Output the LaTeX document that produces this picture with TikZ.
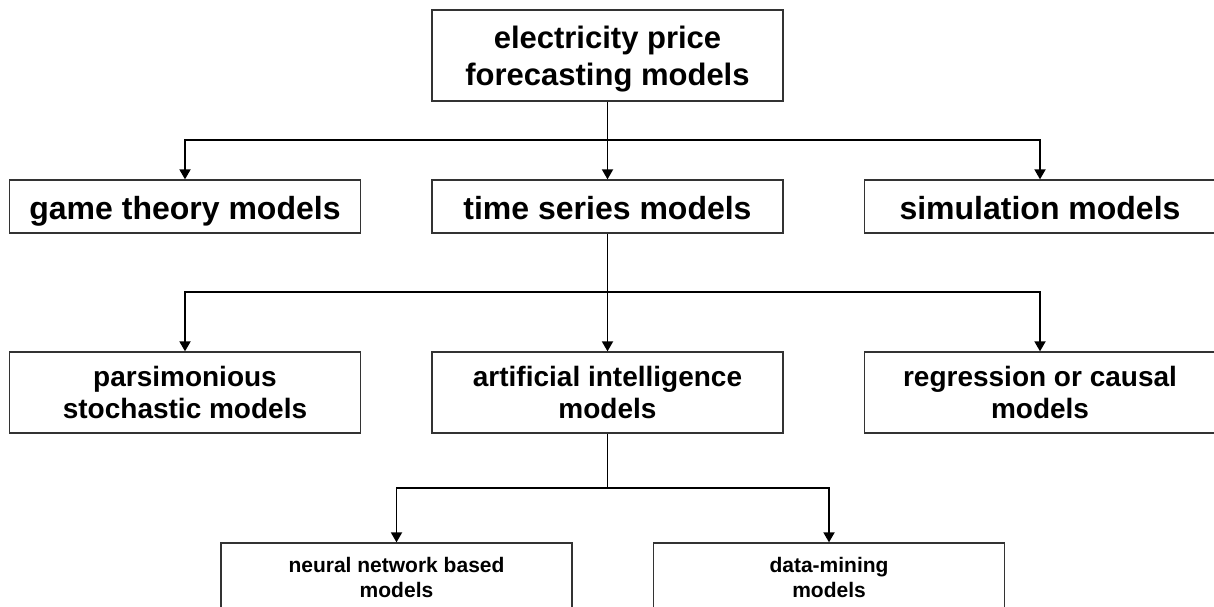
\documentclass[tikz,border=0pt]{standalone}
\usepackage{fontspec}
\setmainfont{Liberation Sans}
\usetikzlibrary{arrows.meta}

\begin{document}
\begin{tikzpicture}[x=1pt,y=-1pt,
  box/.style={draw=black!80,line width=1.3pt,align=center,inner sep=0pt,
    minimum width=351pt,font=\bfseries},
  topbox/.style={box,font=\fontsize{31}{37}\selectfont\bfseries,minimum height=91pt,text depth=0pt},
  bigbox/.style={box,font=\fontsize{32}{37}\selectfont\bfseries,minimum height=53pt,
    text height=25pt,text depth=0pt},
  midbox/.style={box,font=\fontsize{28}{32}\selectfont\bfseries,minimum height=81pt,text depth=0pt},
  smallbox/.style={box,font=\fontsize{21}{25}\selectfont\bfseries,minimum height=68pt,text depth=0pt},
  link/.style={line width=1.8pt,-{Triangle[length=10pt,width=11pt]}}]
\useasboundingbox (0,0) rectangle (1214,606);
\clip (0,0) rectangle (1214,606);
\fill[white] (0,0) rectangle (1214,606);
\node[topbox] (epf) at (607.5,55.5) {electricity price\\forecasting models};
\node[bigbox] (game) at (185,206.5) {game theory models};
\node[bigbox] (series) at (607.5,206.5) {time series models};
\node[bigbox] (sim) at (1040,206.5) {simulation models};
\node[midbox] (pars) at (185,392.5) {parsimonious\\stochastic models};
\node[midbox] (ai) at (607.5,392.5) {artificial intelligence\\models};
\node[midbox] (regr) at (1040,392.5) {regression or causal\\models};
\node[smallbox] (nn) at (396.5,577) {neural network based\\models};
\node[smallbox] (dm) at (829,577) {data-mining\\models};
\coordinate (fork1) at (607.5,140);
\coordinate (fork2) at (607.5,291.7);
\coordinate (fork3) at (607.5,488.3);
\draw[line width=1.8pt] (epf) -- (fork1);
\draw[link] (fork1) -| (game);
\draw[link] (fork1) -- (series);
\draw[link] (fork1) -| (sim);
\draw[line width=1.8pt] (series) -- (fork2);
\draw[link] (fork2) -| (pars);
\draw[link] (fork2) -- (ai);
\draw[link] (fork2) -| (regr);
\draw[line width=1.8pt] (ai) -- (fork3);
\draw[link] (fork3) -| (nn);
\draw[link] (fork3) -| (dm);
\end{tikzpicture}
\end{document}
